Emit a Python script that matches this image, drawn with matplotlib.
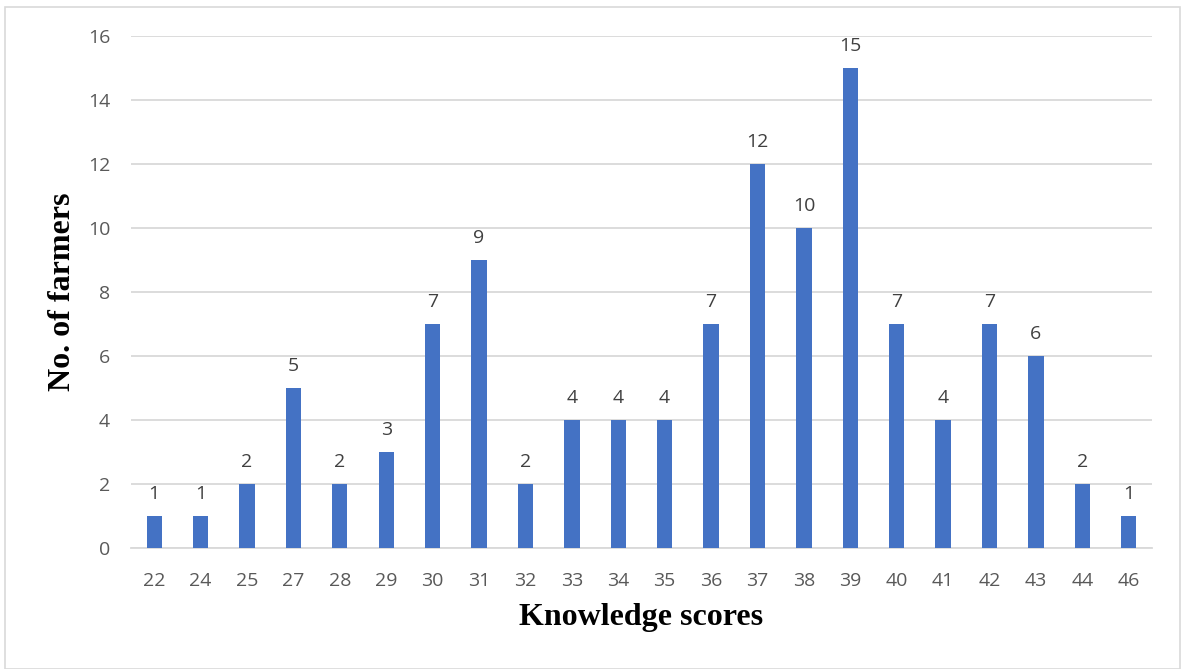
import matplotlib
matplotlib.use("Agg")
import matplotlib.pyplot as plt
import numpy as np
from matplotlib.patches import Rectangle

# knowledge score -> number of farmers
scores = ["22", "24", "25", "27", "28", "29", "30", "31", "32", "33", "34",
          "35", "36", "37", "38", "39", "40", "41", "42", "43", "44", "46"]
farmers = [1, 1, 2, 5, 2, 3, 7, 9, 2, 4, 4, 4, 7, 12, 10, 15, 7, 4, 7, 6, 2, 1]
yticks = [0, 2, 4, 6, 8, 10, 12, 14, 16]

BAR_COLOR = "#4472C4"
GRID_COLOR = "#D9D9D9"
TICK_COLOR = "#595959"

fig = plt.figure(figsize=(11.82, 6.69), dpi=100)
ax = fig.add_axes([0.1108, 0.1809, 0.8638, 0.7653])

# thin frame around the whole figure
fig.patches.append(Rectangle((0.004, 0.0), 0.994, 0.989, transform=fig.transFigure,
                             fill=False, edgecolor="#D9D9D9", linewidth=1.2))

x = np.arange(len(scores))
bars = ax.bar(x, farmers, width=0.33, color=BAR_COLOR, zorder=3)
for xi, v in zip(x, farmers):
    ax.text(xi, v + 0.4, str(v), ha="center", va="bottom",
            fontsize=14, color="#404040", family="Open Sans")

ax.set_xlim(-0.5, len(scores) - 0.5)
ax.set_ylim(0, 16)
ax.set_yticks(yticks)
ax.set_xticks(x)
ax.set_xticklabels(scores)
ax.grid(axis="y", color=GRID_COLOR, linewidth=1.3, zorder=0)
ax.tick_params(length=0, labelsize=14, labelcolor=TICK_COLOR)
ax.tick_params(axis="x", pad=17)
ax.tick_params(axis="y", pad=15)
for lbl in ax.get_xticklabels() + ax.get_yticklabels():
    lbl.set_family("Open Sans")
for side in ["top", "right", "left"]:
    ax.spines[side].set_visible(False)
ax.spines["bottom"].set_color(GRID_COLOR)
ax.spines["bottom"].set_linewidth(1.3)

ax.set_xlabel("Knowledge scores", family="Liberation Serif", fontweight="bold",
              fontsize=23, color="black", labelpad=10)
ax.set_ylabel("No. of farmers", family="Liberation Serif", fontweight="bold",
              fontsize=23, color="black", labelpad=8)

fig.savefig("out.png", dpi=100)
